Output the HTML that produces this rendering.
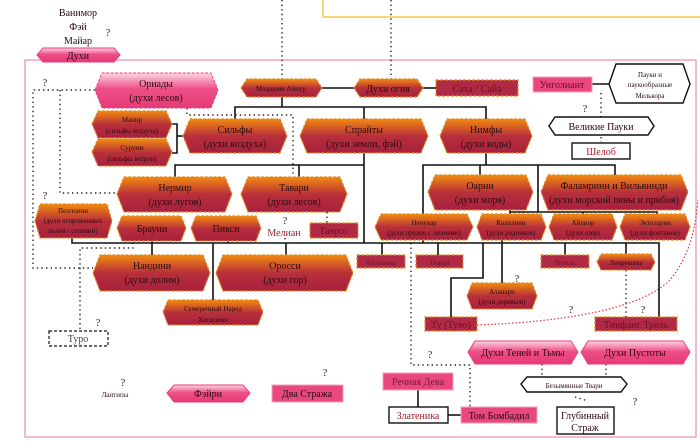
<!DOCTYPE html>
<html><head><meta charset="utf-8"><style>
html,body{margin:0;padding:0;background:#fff;}
svg{display:block;}
text{font-family:"Liberation Serif",serif;text-anchor:middle;fill:#2a0a10;}
.s{font-size:7px}
.m{font-size:10px}
.d{fill:#6a1028}
</style></head><body>
<svg width="700" height="441" viewBox="0 0 700 441" xmlns="http://www.w3.org/2000/svg">
<defs>
<linearGradient id="og" x1="0" y1="0" x2="0" y2="1">
<stop offset="0" stop-color="#f28a10"/><stop offset="0.5" stop-color="#b8303a"/><stop offset="1" stop-color="#a8203e"/></linearGradient>
<linearGradient id="pg" x1="0" y1="0" x2="0" y2="1">
<stop offset="0" stop-color="#fcd6e4"/><stop offset="0.45" stop-color="#ee4f88"/><stop offset="1" stop-color="#e63a76"/></linearGradient>
</defs>
<path d="M323 0 V17 H700" fill="none" stroke="#f5c842" stroke-width="1.5"/>
<rect x="25" y="60" width="671" height="377" fill="none" stroke="#f0a0c0" stroke-width="1.5"/>

<g fill="none" stroke="#222" stroke-width="1.4" stroke-dasharray="1.4 3.2">
<path d="M282 0 V79"/><path d="M391 0 V79"/>
<path d="M601 93 V117"/><path d="M601 137 V142"/>
<path d="M95 90 H33 V268 H93"/><path d="M60 90 V193 H117"/>
<path d="M187 108 V115 H293 V177"/>
<path d="M327 212 V223"/><path d="M285 238 V243"/>
<path d="M133 238 V248 H80 V330"/>
<path d="M411 243 V365 H470 V407"/>
<path d="M542 364 V376"/><path d="M606 364 V376"/>
<path d="M575 397 L588 401"/>
<path d="M626 270 V317"/>
</g>
<path d="M477 325 C560 322 640 310 670 280 C690 255 695 230 698 200" fill="none" stroke="#e83040" stroke-width="1.2" stroke-dasharray="1.5 2"/>

<g fill="none" stroke="#111" stroke-width="1.6">
<path d="M322 88 H354"/><path d="M423 88 H436"/><path d="M592 84 H610"/>
<path d="M282 97 V107"/><path d="M235 119 V107 H486 V119"/><path d="M364 107 V119"/>
<path d="M172 124 H177 V153 H172"/><path d="M177 136 H183"/>
<path d="M364 153 V243"/><path d="M175 177 V165 H364"/><path d="M299 165 V177"/>
<path d="M486 153 V165"/><path d="M423 243 V165 H615 V175"/><path d="M480 165 V175"/><path d="M538 165 V212"/>
<path d="M510 210 V212 H657 V214"/><path d="M510 212 V214"/><path d="M583 212 V214"/>
<path d="M72 238 V243 H659 V317"/>
<path d="M152 241 V255"/><path d="M228 241 V243"/><path d="M213 243 V300"/><path d="M286 243 V255"/>
<path d="M382 243 V255"/><path d="M438 243 V255"/>
<path d="M483 243 V278 H451 V317"/><path d="M502 240 V283"/>
<path d="M565 243 V255"/><path d="M626 243 V254"/>
<path d="M418 389 V407"/><path d="M448 415 H461"/>
</g>

<g fill="url(#og)" stroke="#e08a20" stroke-width="1.2" stroke-dasharray="3 1.5">
<polygon points="241,88 247,79 316,79 322,88 316,97 247,97"/>
<polygon points="354,88 360,79 417,79 423,88 417,97 360,97"/>
<polygon points="92,124 98,111 166,111 172,124 166,138 98,138"/>
<polygon points="92,152 98,139 166,139 172,152 166,166 98,166"/>
<polygon points="183,136 190,119 280,119 287,136 280,153 190,153"/>
<polygon points="300,136 307,119 421,119 428,136 421,153 307,153"/>
<polygon points="440,136 447,119 525,119 532,136 525,153 447,153"/>
<polygon points="117,194 124,177 225,177 232,194 225,212 124,212"/>
<polygon points="241,194 248,177 340,177 347,194 340,212 248,212"/>
<polygon points="428,192 435,175 526,175 533,192 526,210 435,210"/>
<polygon points="541,192 548,175 681,175 688,192 681,210 548,210"/>
<polygon points="35,221 40,204 107,204 112,221 107,238 40,238"/>
<polygon points="117,228 122,216 181,216 186,228 181,241 122,241"/>
<polygon points="191,228 196,216 256,216 261,228 256,241 196,241"/>
<polygon points="375,227 381,214 467,214 473,227 467,240 381,240"/>
<polygon points="477,227 482,214 541,214 546,227 541,240 482,240"/>
<polygon points="549,227 554,214 612,214 617,227 612,240 554,240"/>
<polygon points="620,227 625,214 685,214 690,227 685,240 625,240"/>
<polygon points="93,273 100,255 203,255 210,273 203,291 100,291"/>
<polygon points="216,273 223,255 346,255 353,273 346,291 223,291"/>
<polygon points="597,262 601,254 651,254 655,262 651,270 601,270"/>
<polygon points="163,312 168,300 258,300 263,312 258,325 168,325"/>
<polygon points="467,296 472,283 532,283 537,296 532,309 472,309"/>
</g>
<g fill="#b02a46" stroke="#e08a20" stroke-width="1.2" stroke-dasharray="3 1.5">
<rect x="436" y="80" width="82" height="16"/>
<rect x="310" y="223" width="48" height="15"/>
<rect x="357" y="255" width="48" height="13"/>
<rect x="416" y="255" width="47" height="13"/>
<rect x="541" y="255" width="48" height="13"/>
<rect x="425" y="317" width="52" height="14"/>
<rect x="595" y="317" width="82" height="14"/>
</g>
<polygon points="37,55 43,48 114,48 120,55 114,62 43,62" fill="url(#pg)" stroke="#e8407a"/>
<polygon points="95,90 102,73 211,73 218,90 211,108 102,108" fill="url(#pg)" stroke="#e8407a" stroke-dasharray="3 1.5"/>
<polygon points="167,393 174,385 243,385 250,393 243,402 174,402" fill="url(#pg)" stroke="#e8407a"/>
<polygon points="468,352 475,341 571,341 578,352 571,364 475,364" fill="url(#pg)" stroke="#e8407a"/>
<polygon points="581,352 588,341 683,341 690,352 683,364 588,364" fill="url(#pg)" stroke="#e8407a"/>
<g fill="#e8487e" stroke="#f5a0c0" stroke-width="1">
<rect x="533" y="77" width="59" height="15"/>
<rect x="272" y="385" width="71" height="17"/>
<rect x="383" y="373" width="70" height="17"/>
<rect x="461" y="407" width="76" height="16"/>
</g>
<g fill="#fff" stroke="#111" stroke-width="1.4">
<polygon points="609,84 616,64 683,64 690,84 683,103 616,103"/>
<polygon points="549,126 555,117 648,117 654,126 648,135 555,135"/>
<rect x="572" y="143" width="58" height="16"/>
<polygon points="521,384 527,377 621,377 627,384 621,392 527,392"/>
<rect x="389" y="407" width="59" height="16"/>
<rect x="557" y="407" width="57" height="27"/>
</g>
<rect x="49" y="331" width="59" height="15" fill="#fff" stroke="#111" stroke-width="1.2" stroke-dasharray="3 2"/>

<text class="m" x="78" y="16">Ванимор</text><text class="m" x="78" y="30">Фэй</text><text class="m" x="78" y="44">Майар</text>
<text class="m" x="108" y="36">?</text>
<text class="m" x="78" y="59">Духи</text>
<text class="m" x="156" y="87">Ориады</text><text class="m" x="156" y="101">(духи лесов)</text>
<text class="m" x="45" y="86">?</text><text class="m" x="45" y="199">?</text>
<text class="s" x="281" y="91">Младшие Айнур</text>
<text class="m" x="388" y="92">Духи огня</text>
<text class="m d" x="477" y="92">Саха / Сайа</text>
<text class="m d" x="562" y="88">Унголиант</text>
<text class="s" x="650" y="77">Пауки и</text><text class="s" x="650" y="87">паукообразные</text><text class="s" x="650" y="98">Мелькора</text>
<text class="m" x="585" y="112">?</text>
<text class="m" x="601" y="130">Великие Пауки</text>
<text class="m" x="601" y="155" style="fill:#a02030">Шелоб</text>
<text class="s" x="132" y="122">Манир</text><text class="s" x="132" y="133">(сильфы воздуха)</text>
<text class="s" x="132" y="150">Суруми</text><text class="s" x="132" y="161">(сильфы ветров)</text>
<text class="m" x="235" y="133">Сильфы</text><text class="m" x="235" y="147">(духи воздуха)</text>
<text class="m" x="364" y="133">Спрайты</text><text class="m" x="364" y="147">(духи земли, фэй)</text>
<text class="m" x="486" y="133">Нимфы</text><text class="m" x="486" y="147">(духи воды)</text>
<text class="m" x="175" y="191">Нермир</text><text class="m" x="175" y="205">(духи лугов)</text>
<text class="m" x="294" y="191">Тавари</text><text class="m" x="294" y="205">(духи лесов)</text>
<text class="m" x="480" y="189">Оарни</text><text class="m" x="480" y="203">(духи моря)</text>
<text class="m" x="614" y="189">Фаламрини и Вильвинди</text><text class="m" x="614" y="203">(духи морской пены и прибоя)</text>
<text class="s" x="73" y="213">Пеллоини</text><text class="s" x="73" y="223">(духи огороженных</text><text class="s" x="73" y="233">полей / селений)</text>
<text class="m" x="152" y="232">Брауни</text>
<text class="m" x="226" y="232">Пикси</text>
<text class="m" x="285" y="224">?</text>
<text class="m" x="284" y="236" style="fill:#a02030">Мелиан</text>
<text class="m d" x="334" y="234">Таврос</text>
<text class="s" x="424" y="225">Ненувар</text><text class="s" x="424" y="235">(духи прудов с лилиями)</text>
<text class="s" x="511" y="225">Калалини</text><text class="s" x="511" y="235">(духи родников)</text>
<text class="s" x="583" y="225">Айлиор</text><text class="s" x="583" y="235">(духи озер)</text>
<text class="s" x="655" y="225">Эктеларни</text><text class="s" x="655" y="235">(духи фонтанов)</text>
<text class="m" x="152" y="269">Нандини</text><text class="m" x="152" y="283">(духи долин)</text>
<text class="m" x="285" y="269">Оросси</text><text class="m" x="285" y="283">(духи гор)</text>
<text class="s d" x="381" y="265">Айлинона</text>
<text class="s d" x="440" y="265">Нарди</text>
<text class="s d" x="565" y="265">Тетиль</text>
<text class="s" x="626" y="265">Лепреконы</text>
<text class="s" x="213" y="311">Сумеречный Народ</text><text class="s" x="213" y="322">Хисиломэ</text>
<text class="m" x="517" y="282">?</text>
<text class="s" x="502" y="294">Аланари</text><text class="s" x="502" y="304">(духи деревьев)</text>
<text class="m" x="571" y="313">?</text><text class="m" x="643" y="313">?</text>
<text class="m d" x="451" y="328">Ту (Туво)</text>
<text class="m d" x="636" y="328">Тинфанг Трель</text>
<text class="m" x="98" y="326">?</text>
<text class="m" x="78" y="342" style="fill:#444">Туро</text>
<text class="m" x="430" y="358">?</text>
<text class="m" x="523" y="356">Духи Теней и Тьмы</text>
<text class="m" x="635" y="356">Духи Пустоты</text>
<text class="m" x="418" y="385" style="fill:#7a1838">Речная Дева</text>
<text class="s" x="574" y="388">Безымянные Твари</text>
<text class="m" x="635" y="405">?</text>
<text class="m" x="418" y="419" style="fill:#a02030">Златеника</text>
<text class="m" x="499" y="419">Том Бомбадил</text>
<text class="m" x="585" y="419">Глубинный</text><text class="m" x="585" y="431">Страж</text>
<text class="m" x="123" y="386">?</text>
<text class="s" x="115" y="397">Лаитипы</text>
<text class="m" x="208" y="397">Фэйри</text>
<text class="m" x="325" y="376">?</text>
<text class="m" x="307" y="397">Два Стража</text>
</svg>
</body></html>
